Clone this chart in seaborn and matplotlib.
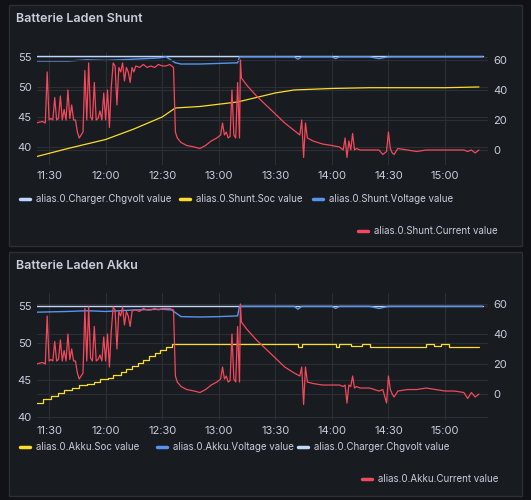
import matplotlib
matplotlib.use("Agg")
import matplotlib.pyplot as plt
import matplotlib.patches as mpatches
from matplotlib.lines import Line2D
import seaborn as sns
import numpy as np
import pandas as pd

# time in minutes after 11:00
sh_cur_t = [23, 26.5, 28, 29, 30, 31, 32, 33, 34, 35, 36, 37, 38, 39, 40, 41, 42, 43, 44, 45, 46, 47, 48, 49, 50,
            51, 52, 53, 54, 55, 56, 57, 58, 59, 60, 61, 62, 63, 64, 65, 66, 67, 68, 69, 70, 71, 72, 73, 74, 75,
            76, 78, 80, 82, 84, 86, 88, 90, 92, 94, 96, 97, 98, 100, 103, 107, 110, 113, 116, 119, 121, 122, 123,
            124, 125, 126, 127, 128, 129, 130, 131, 131.5, 132, 135, 140, 145, 150, 155, 160, 163, 164, 165, 166,
            167, 170, 175, 180, 184, 186, 187, 188, 189, 190, 191, 192, 193, 195, 200, 205, 207, 209, 210, 211,
            212, 213, 215, 220, 225, 230, 235, 240, 245, 250, 252, 254, 256, 258]
sh_cur_v = [18, 19, 18, 52, 20, 21, 20, 35, 20, 21, 36, 20, 27, 20, 40, 21, 30, 20, 20, 12, 8, 10, 12, 53, 20,
            58, 22, 20, 45, 20, 21, 26, 20, 38, 20, 40, 15, 42, 58, 56, 30, 55, 52, 58, 46, 55, 52, 45, 55, 52,
            56, 55, 57, 55, 56, 55, 57, 56, 56, 57, 55, 12, 8, 5, 3, 2, 1, 3, 6, 8, 10, 18, 10,
            12, 8, 9, 40, 10, 8, 45, 8, 60, 48, 43, 36, 30, 24, 18, 13, 10, 20, -5, 18,
            8, 6, 4, 3, 2, 0, 8, -5, 6, 0, 11, 0, 1, 0, 0, 0, -3, -1, 12, 1,
            -2, -3, 1, 0, -1, 0, 0, 0, 0, 0, -1, 0, -2, 0]
sh_volt_t = [23, 40, 50, 60, 75, 88, 92, 97, 100, 110, 120, 130, 131, 160, 162, 164, 180, 182, 184, 200, 205, 210, 260]
sh_volt_v = [54.3, 54.3, 54.5, 54.4, 54.6, 54.8, 55.0, 54.0, 53.8, 53.8, 53.9, 54.0, 55.0, 55.0, 54.6, 55.0, 55.0, 54.7, 55.0, 55.0, 54.7, 55.0, 55.0]
sh_chg_t = [23, 260]
sh_chg_v = [55.2, 55.2]
sh_soc_t = [23, 40, 60, 75, 90, 97, 110, 130, 140, 150, 160, 180, 200, 240, 258]
sh_soc_v = [-4.5, 1, 7, 14, 22, 28, 29, 32, 35, 38, 40, 41, 41.5, 41.5, 42]

ak_cur_t = sh_cur_t
ak_cur_v = [20, 21, 20, 52, 22, 23, 22, 35, 22, 23, 36, 22, 29, 22, 40, 23, 30, 22, 22, 14, 10, 12, 14, 57, 22,
            58, 24, 22, 45, 22, 23, 26, 22, 38, 22, 40, 18, 42, 58, 56, 30, 55, 52, 58, 46, 55, 52, 45, 55, 56,
            56, 55, 57, 56, 56, 57, 56, 57, 57, 57, 56, 12, 8, 5, 3, 2, 1, 3, 6, 8, 10, 18, 10,
            12, 8, 9, 40, 10, 8, 45, 8, 60, 48, 43, 36, 30, 24, 18, 14, 12, 18, -7, 18,
            8, 7, 6, 6, 6, 5, 6, -6, 6, 5, 12, 4, 5, 4, 4, 2, 3, -6, 12, 3,
            0, -2, 2, 3, 3, 4, 3, 2, 2, 1, -3, 1, -2, 0]
ak_volt_t = [23, 40, 50, 60, 75, 90, 95, 100, 110, 120, 130, 131, 160, 162, 164, 180, 182, 184, 200, 205, 210, 260]
ak_volt_v = [54.2, 54.3, 54.4, 54.3, 54.5, 54.6, 54.5, 53.6, 53.55, 53.6, 53.7, 55.0, 55.0, 54.6, 55.0, 55.0, 54.7, 55.0, 55.0, 54.7, 55.0, 55.0]
ak_chg_t = [23, 260]
ak_chg_v = [55.05, 55.05]
ak_soc_t = [23, 27, 31, 35, 38, 42, 46, 50, 54, 57, 61, 64, 68, 71, 74, 77, 80, 83, 86, 89, 92, 95, 160, 162,
            164, 180, 182, 184, 190, 196, 200, 210, 228, 230, 234, 238, 242, 258]
ak_soc_v = [-6, -3, -1, 1, 3, 4, 6, 7, 8, 10, 11, 13, 15, 17, 19, 21, 23, 25, 27, 29, 31, 33, 33, 31,
            33, 33, 31, 33, 32, 33, 31, 31, 31, 33, 32, 33, 31, 31]

RED, YEL, BLUE, LBLUE = "#F2495C", "#FADE2A", "#5794F2", "#C0D8FF"
TXT = "#ccccdc"
base = pd.Timestamp("2024-01-01 11:00")


def ts(t):
    return base + pd.to_timedelta(np.array(t, dtype=float), unit="min")


sns.set_theme(style="dark")
plt.rcParams["font.family"] = ["Inter", "DejaVu Sans"]

fig = plt.figure(figsize=(5.31, 5.0), dpi=100, facecolor="#111217")


def panel(y0, y1, title):
    fig.patches.append(mpatches.Rectangle((9 / 531, 1 - y1 / 500), 513 / 531, (y1 - y0) / 500,
                                          transform=fig.transFigure, facecolor="#181b1f",
                                          edgecolor="#2c3036", lw=1, zorder=-5))
    fig.text(16 / 531, 1 - (y0 + 14) / 500, title, color=TXT, fontsize=9, fontweight="semibold", va="center")


def legend_item(x, y, color, label):
    fig.lines.append(Line2D([x / 531, (x + 10) / 531], [1 - y / 500] * 2, transform=fig.transFigure,
                            color=color, lw=2.5, solid_capstyle="round"))
    fig.text((x + 16) / 531, 1 - y / 500, label, color=TXT, fontsize=7, va="center")


def chart(rect, ylim, ylim2, series_l, series_r, yticks):
    ax = fig.add_axes(rect)
    ax.set_facecolor("none")
    ax2 = ax.twinx()
    for t, v, c in series_l:
        sns.lineplot(x=ts(t), y=v, ax=ax, color=c, lw=1)
    for t, v, c, ds in series_r:
        sns.lineplot(x=ts(t), y=v, ax=ax2, color=c, lw=0.9, drawstyle=ds)
    ax.set_ylim(*ylim)
    ax2.set_ylim(*ylim2)
    ax.set_yticks(yticks)
    ax2.set_yticks([0, 20, 40, 60])
    ax.set_xlim(ts([23.6])[0], ts([262.8])[0])
    ax.set_xticks(ts([30, 60, 90, 120, 150, 180, 210, 240]))
    ax.set_xticklabels(["11:30", "12:00", "12:30", "13:00", "13:30", "14:00", "14:30", "15:00"])
    for a in (ax, ax2):
        a.tick_params(colors=TXT, labelsize=8, length=0, pad=4)
        for s in a.spines.values():
            s.set_visible(False)
        a.set_xlabel("")
        a.set_ylabel("")
    ax.grid(True, color="#2b2e33", lw=0.8)
    ax2.grid(True, axis="y", color="#2b2e33", lw=0.8)
    ax.set_axisbelow(True)
    return ax


panel(5, 246, "Batterie Laden Shunt")
chart([37 / 531, 1 - 165 / 500, 451 / 531, 113 / 500], (37.0, 55.8), (-10, 65.3),
      [(sh_chg_t, sh_chg_v, LBLUE), (sh_volt_t, sh_volt_v, BLUE)],
      [(sh_soc_t, sh_soc_v, YEL, "default"), (sh_cur_t, sh_cur_v, RED, "default")], [40, 45, 50, 55])
legend_item(20, 199, LBLUE, "alias.0.Charger.Chgvolt value")
legend_item(180, 199, YEL, "alias.0.Shunt.Soc value")
legend_item(313, 199, BLUE, "alias.0.Shunt.Voltage value")
legend_item(358, 231, RED, "alias.0.Shunt.Current value")

panel(252, 496, "Batterie Laden Akku")
chart([37 / 531, 1 - 420 / 500, 451 / 531, 127 / 500], (39.6, 56.8), (-17.3, 67.3),
      [(ak_chg_t, ak_chg_v, LBLUE), (ak_volt_t, ak_volt_v, BLUE)],
      [(ak_soc_t, ak_soc_v, YEL, "steps-post"), (ak_cur_t, ak_cur_v, RED, "default")], [40, 45, 50, 55])
legend_item(20, 447, YEL, "alias.0.Akku.Soc value")
legend_item(157, 447, BLUE, "alias.0.Akku.Voltage value")
legend_item(298, 447, LBLUE, "alias.0.Charger.Chgvolt value")
legend_item(362, 479, RED, "alias.0.Akku.Current value")

fig.savefig("out.png", dpi=100, facecolor=fig.get_facecolor())
